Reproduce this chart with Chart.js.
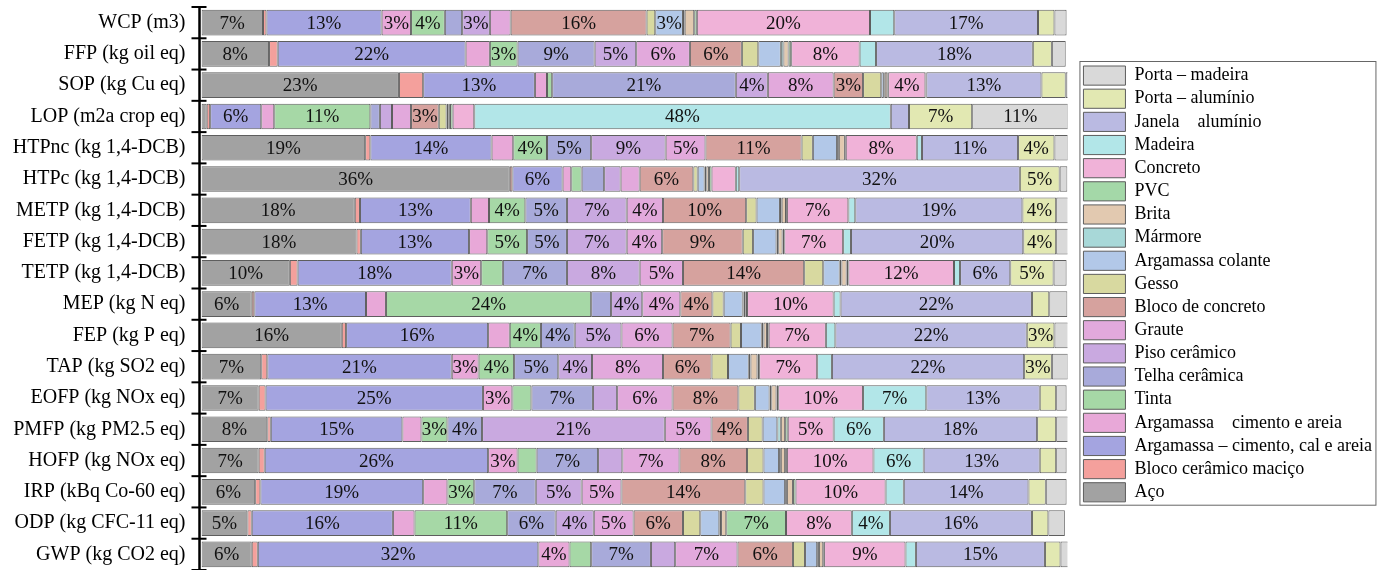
<!DOCTYPE html>
<html><head><meta charset="utf-8">
<script src="https://cdn.jsdelivr.net/npm/chart.js@4.4.1/dist/chart.umd.min.js"></script>
<style>html,body{margin:0;padding:0;background:#fff;}#wrap{width:1387px;height:570px;position:relative;}</style>
</head><body><div id="wrap"><canvas id="c"></canvas></div>
<script>
const categories = ['WCP (m3)','FFP (kg oil eq)','SOP (kg Cu eq)','LOP (m2a crop eq)','HTPnc (kg 1,4-DCB)','HTPc (kg 1,4-DCB)','METP (kg 1,4-DCB)','FETP (kg 1,4-DCB)','TETP (kg 1,4-DCB)','MEP (kg N eq)','FEP (kg P eq)','TAP (kg SO2 eq)','EOFP (kg NOx eq)','PMFP (kg PM2.5 eq)','HOFP (kg NOx eq)','IRP (kBq Co-60 eq)','ODP (kg CFC-11 eq)','GWP (kg CO2 eq)'];

const aco            = [7.1, 7.8, 22.8, 0.6, 18.9, 35.6, 17.7, 17.9, 10.2, 5.8, 16.2, 6.9, 6.6, 7.6, 6.6, 6.2, 5.3, 5.8];
const blocoCeramico  = [0.4, 1.0, 2.8, 0.4, 0.6, 0.3, 0.6, 0.5, 0.9, 0.3, 0.5, 0.7, 0.8, 0.4, 0.7, 0.6, 0.5, 0.7];
const argamassaCal   = [13.3, 21.7, 12.9, 5.9, 14.0, 5.8, 12.8, 12.5, 17.8, 12.9, 16.4, 21.3, 25.1, 15.2, 25.8, 18.8, 16.3, 32.4];
const argamassaCim   = [3.4, 2.8, 1.4, 1.5, 2.5, 1.0, 2.1, 2.1, 3.4, 2.3, 2.5, 3.1, 3.4, 2.2, 3.4, 2.8, 2.5, 3.6];
const tinta          = [3.9, 3.2, 0.6, 11.1, 3.9, 1.2, 4.2, 4.6, 2.5, 23.7, 3.6, 4.1, 2.2, 3.0, 2.2, 3.1, 10.7, 2.5];
const telha          = [2.0, 8.9, 21.2, 1.1, 5.1, 2.6, 4.8, 4.6, 7.4, 2.3, 3.9, 5.1, 7.1, 4.0, 7.1, 7.1, 5.6, 6.9];
const piso           = [3.2, 4.8, 3.7, 1.4, 8.6, 1.9, 6.9, 6.9, 8.4, 3.6, 5.4, 3.9, 2.8, 21.1, 2.8, 5.3, 4.4, 2.8];
const graute         = [2.4, 6.2, 7.6, 2.2, 4.6, 2.2, 4.2, 4.1, 5.0, 4.4, 5.9, 8.2, 6.4, 5.4, 6.6, 4.6, 4.6, 7.2];
const blocoConcreto  = [15.7, 6.0, 3.4, 3.2, 11.1, 6.2, 9.6, 9.3, 14.0, 3.7, 6.7, 5.6, 7.6, 4.2, 7.8, 14.3, 5.7, 6.4];
const gesso          = [1.0, 1.9, 2.1, 0.9, 1.3, 0.5, 1.2, 1.2, 2.2, 1.3, 1.2, 1.9, 1.9, 1.7, 1.9, 2.1, 2.0, 1.4];
const argColante     = [3.2, 2.6, 0.3, 0.2, 2.8, 0.8, 2.7, 2.7, 1.9, 2.2, 2.4, 2.4, 1.7, 1.7, 1.8, 2.5, 2.2, 1.4];
const marmore        = [0.2, 0.3, 0.1, 0.1, 0.2, 0.2, 0.2, 0.2, 0.2, 0.1, 0.2, 0.2, 0.2, 0.4, 0.2, 0.2, 0.2, 0.2];
const brita          = [1.1, 0.6, 0.3, 0.1, 0.7, 0.3, 0.5, 0.5, 0.6, 0.2, 0.4, 0.8, 0.6, 0.5, 0.5, 0.7, 0.6, 0.5];
const pvc            = [0.3, 0.3, 0.1, 0.3, 0.1, 0.3, 0.1, 0.2, 0.2, 0.2, 0.2, 0.2, 0.2, 0.3, 0.2, 0.3, 6.9, 0.1];
const concreto       = [20.0, 7.9, 4.3, 2.5, 8.2, 2.8, 7.1, 6.8, 12.2, 10.0, 6.6, 6.7, 9.8, 5.3, 10.0, 10.4, 7.6, 9.4];
const madeira        = [2.8, 1.9, 0.1, 48.1, 0.6, 0.4, 0.8, 0.9, 0.7, 0.8, 1.1, 1.7, 7.3, 5.8, 5.8, 2.1, 4.4, 1.2];
const janelaAluminio = [16.6, 18.1, 13.3, 2.1, 11.1, 32.4, 19.3, 19.9, 5.8, 22.1, 22.1, 22.2, 13.1, 17.7, 13.4, 14.4, 16.4, 14.9];
const portaAluminio  = [1.9, 2.2, 2.8, 7.3, 4.2, 4.6, 3.9, 3.8, 5.0, 2.0, 3.2, 3.2, 1.9, 2.2, 1.9, 2.0, 1.9, 1.8];
const portaMadeira   = [1.4, 1.6, 0.4, 11.1, 1.6, 0.9, 1.5, 1.5, 1.5, 2.1, 1.7, 1.9, 1.2, 1.5, 1.2, 2.4, 1.9, 1.0];

const seriesNames = ['Aço','Bloco cerâmico maciço','Argamassa – cimento, cal e areia','Argamassa    cimento e areia','Tinta','Telha cerâmica','Piso cerâmico','Graute','Bloco de concreto','Gesso','Argamassa colante','Mármore','Brita','PVC','Concreto','Madeira','Janela    alumínio','Porta – alumínio','Porta – madeira'];
const seriesValues = [aco, blocoCeramico, argamassaCal, argamassaCim, tinta, telha, piso, graute, blocoConcreto, gesso, argColante, marmore, brita, pvc, concreto, madeira, janelaAluminio, portaAluminio, portaMadeira];
const seriesColors = ['#a2a2a2','#f4a09c','#a4a4e0','#e8a8d8','#a6d8a6','#a8aada','#c9a9e0','#e2a9dc','#d6a29e','#d8d9a0','#b2c8e8','#a8d8d8','#e2c9b0','#a4d8a8','#f0b2d8','#b2e6e8','#babae2','#e2e8b2','#d9d9d9'];

const datasets = seriesNames.map((n, i) => ({
  label: n,
  data: seriesValues[i],
  backgroundColor: seriesColors[i],
  borderColor: '#5e5e5e',
  borderWidth: 1,
  borderSkipped: false,
  barPercentage: 0.82,
  categoryPercentage: 1.0
}));

const axisPlugin = {
  id: 'axisLines',
  afterDraw(chart) {
    const {ctx, chartArea: {left, top, bottom}} = chart;
    const n = categories.length;
    const h = (bottom - top) / n;
    ctx.save();
    ctx.strokeStyle = '#000';
    ctx.lineWidth = 2.5;
    ctx.beginPath(); ctx.moveTo(left - 2, top - 0.5); ctx.lineTo(left - 2, bottom + 2); ctx.stroke();
    ctx.lineWidth = 2;
    for (let k = 0; k <= n; k++) {
      const y = top + k * h;
      ctx.beginPath(); ctx.moveTo(left - 10, y); ctx.lineTo(left + 5, y); ctx.stroke();
    }
    ctx.restore();
  }
};

const labelPlugin = {
  id: 'segLabels',
  afterDatasetsDraw(chart) {
    const ctx = chart.ctx;
    ctx.save();
    ctx.font = '19px "Liberation Serif"';
    ctx.textAlign = 'center';
    ctx.textBaseline = 'middle';
    ctx.fillStyle = '#111';
    chart.data.datasets.forEach((ds, i) => {
      const meta = chart.getDatasetMeta(i);
      meta.data.forEach((el, j) => {
        const v = ds.data[j];
        if (v >= 2.85) {
          const c = el.getCenterPoint();
          ctx.fillText(Math.round(v) + '%', c.x, c.y + 1);
        }
      });
    });
    ctx.restore();
  }
};

const legendBorder = {
  id: 'legendBorder',
  afterDraw(chart) {
    const lg = chart.legend;
    if (!lg || !lg.legendHitBoxes || !lg.legendHitBoxes.length) return;
    const hb = lg.legendHitBoxes;
    const first = hb[0], last = hb[hb.length - 1];
    const ctx = chart.ctx;
    ctx.save();
    ctx.strokeStyle = '#666';
    ctx.lineWidth = 1;
    const x0 = first.left - 3.5, y0 = first.top - 4.5;
    const x1 = x0 + 296, y1 = last.top + 19 + 3.5;
    ctx.strokeRect(x0, y0, x1 - x0, y1 - y0);
    ctx.restore();
  }
};

new Chart(document.getElementById('c'), {
  type: 'bar',
  data: { labels: categories, datasets },
  options: {
    indexAxis: 'y',
    responsive: true,
    maintainAspectRatio: false,
    animation: false,
    layout: { padding: { left: 0, top: 7, right: 5, bottom: 0 } },
    scales: {
      x: { stacked: true, min: 0, max: 100, display: false },
      y: {
        stacked: true, offset: true,
        grid: { display: false, offset: true, drawTicks: true, tickLength: 16 },
        border: { display: false },
        ticks: { autoSkip: false, padding: 0, color: '#000', font: { family: '"Liberation Serif"', size: 20, lineHeight: 0.5 } },
        afterFit(s) { s.width = 201.5; s.paddingTop = 0; s.paddingBottom = 0; }
      },
      y2: {
        type: 'category', position: 'right', labels: categories, offset: true,
        grid: { display: false, drawTicks: false }, border: { display: false },
        ticks: { display: false, padding: 0 },
        afterFit(s) { s.width = 12; s.paddingTop = 0; s.paddingBottom = 0; }
      }
    },
    plugins: {
      legend: {
        position: 'right',
        align: 'start',
        reverse: true,
        maxWidth: 320,
        title: { display: true, text: '', font: { size: 1, lineHeight: 1 }, padding: { top: 54, bottom: 0 } },
        labels: {
          boxWidth: 42, boxHeight: 19.15, padding: 4, color: '#000',
          font: { family: '"Liberation Serif"', size: 18 }
        }
      },
      tooltip: { enabled: false }
    }
  },
  plugins: [axisPlugin, labelPlugin, legendBorder]
});
</script></body></html>
